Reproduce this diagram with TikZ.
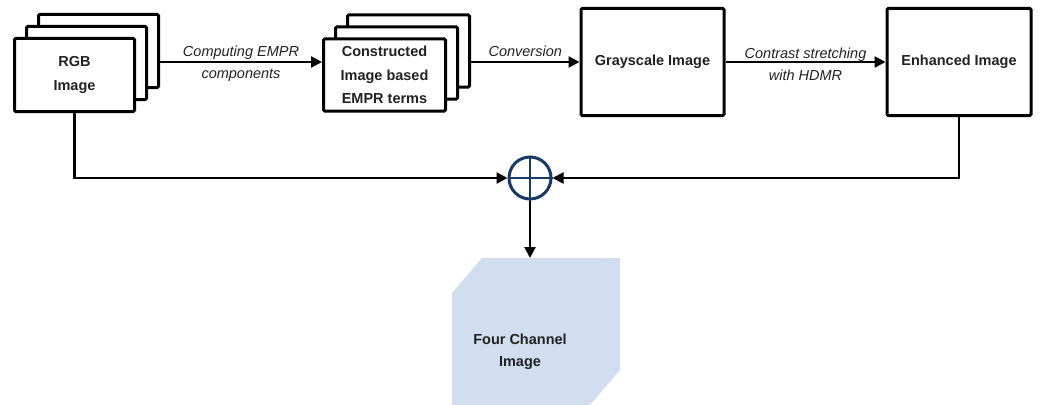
\documentclass[tikz,border=0pt]{standalone}
\usepackage{fontspec}
\setmainfont{Liberation Sans}
\usetikzlibrary{arrows.meta}
\definecolor{navy}{HTML}{173A66}
\definecolor{lightblue}{HTML}{D0DEEF}
\definecolor{txt}{HTML}{222222}
\begin{document}
\begin{tikzpicture}[x=1pt,y=-1pt,
  box/.style={draw=black, line width=3pt, fill=white, rounded corners=1.2pt,
    inner sep=0pt, align=center, text=txt, font=\bfseries\fontsize{14.5}{23.5}\selectfont},
  arr/.style={draw=black, line width=2.4pt, -{Triangle[length=11pt,width=11pt]}},
  lbl/.style={text=txt, font=\itshape\fontsize{14.5}{22}\selectfont, align=center, inner sep=0pt},
]
\useasboundingbox (0,0) rectangle (1040,404);

% RGB stack
\node[box, minimum width=120pt, minimum height=73pt] (rgbC) at (98.5,51) {};
\node[box, minimum width=120pt, minimum height=73pt] (rgbB) at (86.5,63) {};
\node[box, minimum width=120pt, minimum height=73pt] (rgbA) at (74.5,75) {RGB\\Image};

% Constructed stack
\node[box, minimum width=122pt, minimum height=72pt] (conC) at (408.5,51) {};
\node[box, minimum width=122pt, minimum height=72pt] (conB) at (396.5,63) {};
\node[box, minimum width=122pt, minimum height=72pt] (conA) at (384.5,75) {Constructed\\Image based\\EMPR terms};

% Single boxes
\node[box, minimum width=143pt, minimum height=107pt] (gray) at (652.5,62) {Grayscale Image};
\node[box, minimum width=144pt, minimum height=107pt] (enh) at (959,62) {Enhanced Image};

% Sum junction
\node[draw=navy, line width=3pt, circle, minimum size=42pt, inner sep=0pt, fill=white] (sum) at (530,178) {};
\draw[navy, line width=2.5pt] (sum.north) -- (sum.south) (sum.west) -- (sum.east);

% Four channel shape
\fill[lightblue] (482,258) -- (620,258) -- (620,370) -- (590,405) -- (452,405) -- (452,293) -- cycle;
\coordinate (fourtop) at (530,258);
\node[text=txt, font=\bfseries\fontsize{14.5}{22}\selectfont, align=center] (four) at (520,352) {Four Channel\\Image};

% Connectors
\draw[arr] (rgbC.east |- gray.west) -- node[lbl, midway, yshift=-2pt] {Computing EMPR\\components} (conA.west |- gray.west);
\draw[arr] (conC.east |- gray.west) -- node[lbl, midway, above=4pt] {Conversion} (gray.west);
\draw[arr] (gray.east) -- node[lbl, midway, yshift=-2pt] {Contrast stretching\\with HDMR} (enh.west);
\draw[arr] (rgbA.south) |- (sum.west);
\draw[arr] (enh.south) |- (sum.east);
\draw[arr] (sum.south) -- (fourtop);
\end{tikzpicture}
\end{document}
